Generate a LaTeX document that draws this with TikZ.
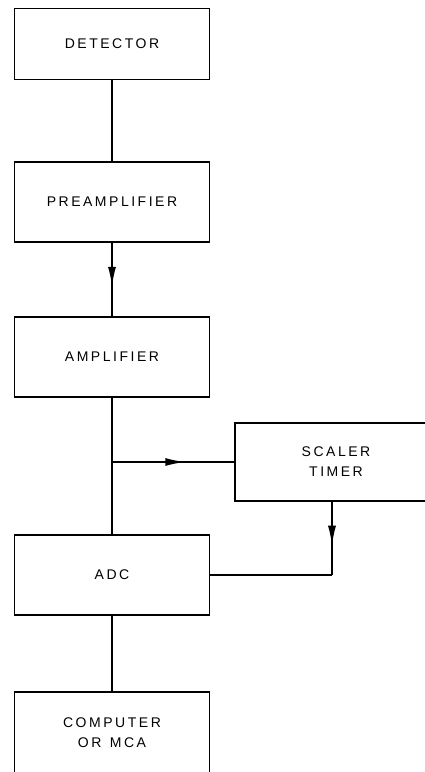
\documentclass[tikz,border=0pt]{standalone}
\usepackage{fontspec}
\setmainfont{Liberation Sans}[LetterSpace=18]
\usetikzlibrary{positioning, arrows.meta, decorations.markings}

\begin{document}
\begin{tikzpicture}[
        x=1pt, y=-1pt,
        block/.style={draw, rectangle, line width=1.7pt, minimum width=195pt, minimum height=80pt, inner sep=0pt, align=center,
            font=\fontsize{14}{20}\selectfont},
        line/.style={line width=1.7pt},
        midarrow/.style={line width=1.7pt, decoration={markings, mark=at position 0.6 with {\arrow{Latex[length=20pt, width=8pt]}}}, postaction={decorate}}
    ]

    % Pagina fissa
    \useasboundingbox (0,0) rectangle (425,772);
    \clip (0,0) rectangle (425,772);

    % Blocchi della catena principale
    \node[block, minimum height=71pt] (det) at (112, 44) {DETECTOR};
    \node[block] (pre) at (112, 202) {PREAMPLIFIER};
    \node[block] (amp) at (112, 357) {AMPLIFIER};
    \node[block] (adc) at (112, 575) {ADC};
    \node[block, minimum height=82pt] (comp) at (112, 733) {COMPUTER\\OR\hspace{0.6em}MCA};

    % Blocco laterale (tagliato a destra)
    \node[block, minimum width=202pt, minimum height=78pt] (scal) at (336, 462) {SCALER\\TIMER};

    % Collegamenti verticali
    \draw[line] (det) -- (pre);
    \draw[midarrow] (pre) -- (amp);
    \draw[line] (amp) -- (adc);
    \draw[line] (adc) -- (comp);

    % Diramazione verso lo scaler
    \coordinate (branch) at (amp.south |- scal.west);
    \draw[midarrow] (branch) -- (scal.west);

    % Ritorno dallo scaler verso l'ADC
    \coordinate (corner) at ([xshift=-4pt]scal.south |- adc.east);
    \draw[midarrow] ([xshift=-4pt]scal.south) -- (corner);
    \draw[line] (corner) -- (adc.east);

\end{tikzpicture}
\end{document}
